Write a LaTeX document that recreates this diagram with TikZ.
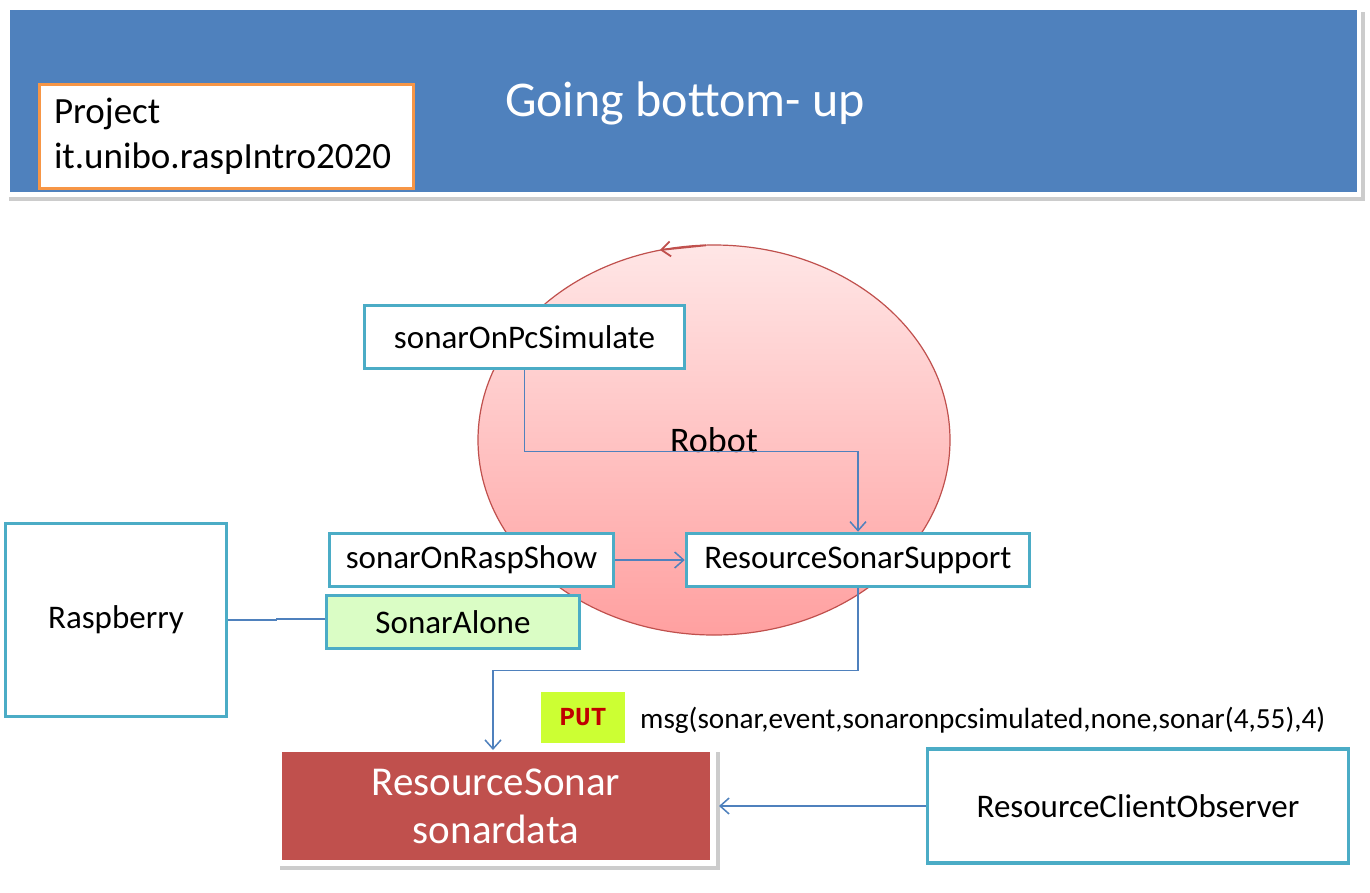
\documentclass[tikz,border=0pt]{standalone}
\usepackage{fontspec}
\setmainfont{Carlito}
\newfontfamily\monob{Liberation Mono}
\usetikzlibrary{arrows.meta,shapes.geometric}
\definecolor{hdrblue}{HTML}{4F81BD}
\definecolor{boxteal}{HTML}{4BACC6}
\definecolor{linkblue}{HTML}{4F81BD}
\definecolor{projorange}{HTML}{F79646}
\definecolor{robred}{HTML}{C0504D}
\definecolor{pinktop}{HTML}{FFE6E6}
\definecolor{pinkbot}{HTML}{FFA0A0}
\definecolor{alonegreen}{HTML}{DAFDC5}
\definecolor{resred}{HTML}{C0504D}
\definecolor{putgreen}{HTML}{CCFF33}
\definecolor{putred}{HTML}{C00000}
\begin{document}
\begin{tikzpicture}[x=1pt,y=-1pt,
  box/.style={draw=boxteal, line width=3.5pt, fill=white, inner sep=0pt,
    font=\fontsize{33}{38}\selectfont},
  conn/.style={draw=linkblue, line width=1.5pt},
  arr/.style={conn, -{Straight Barb[length=9pt,width=16pt,line width=1.5pt]}}]
\useasboundingbox (0,0) rectangle (1370,892);
\fill[white] (0,0) rectangle (1370,892);

% header
\fill[black!20] (9,12) rectangle (1365,201);
\fill[white] (6,7) rectangle (1361,197);
\fill[hdrblue] (10,10) rectangle (1357,192);
\node[font=\fontsize{50}{54}\selectfont, text=white] (title) at (685,103) {Going bottom- up};
\node[draw=projorange, line width=3pt, fill=white, minimum width=374pt, minimum height=104pt,
  text width=345pt, inner xsep=14.5pt, inner ysep=0pt, align=left,
  font=\fontsize{37}{45}\selectfont] (proj) at (226.5,136.5) {\raisebox{-4pt}{Project}\\\raisebox{-4pt}{it.unibo.raspIntro2020}};

% robot ellipse
\node[ellipse, draw=robred, line width=1.2pt, minimum width=472pt, minimum height=390pt,
  top color=pinktop, bottom color=pinkbot, inner sep=0pt,
  font=\fontsize{36}{40}\selectfont] (robot) at (714,440) {Robot};
\draw[robred, line width=1.8pt, -{Straight Barb[length=9pt,width=15pt,line width=1.8pt]}]
  (706,245.3) -- (660,250);

% boxes
\node[box, minimum width=320pt, minimum height=63pt] (pcsim) at (524.5,337) {sonarOnPcSimulate};
\node[box, minimum width=284pt, minimum height=53pt] (raspshow) at (471.5,560) {sonarOnRaspShow};
\node[box, minimum width=343pt, minimum height=53pt] (support) at (858,560) {ResourceSonarSupport};
\node[box, fill=alonegreen, minimum width=253pt, minimum height=53pt] (alone) at (453,622) {SonarAlone};
\node[box, minimum width=221pt, minimum height=193pt] (rasp) at (116,620) {Raspberry};
\node[box, minimum width=421pt, minimum height=114pt] (client) at (1138,806) {ResourceClientObserver};

% resource sonar
\fill[black!20] (280,752) rectangle (720,870);
\node[fill=resred, draw=white, line width=6pt, minimum width=434pt, minimum height=114pt,
  inner sep=0pt, align=center, text=white, font=\fontsize{41}{48}\selectfont]
  (res) at (496,806) {ResourceSonar\\sonardata};

% PUT label and message
\node[fill=putgreen, minimum width=84pt, minimum height=51pt, inner sep=0pt,
  text=putred, font=\fontsize{26}{30}\selectfont\monob\bfseries] (put) at (583,717.5) {PUT};
\node[anchor=west, inner sep=0pt, font=\fontsize{29.2}{33}\selectfont] (msg) at (640,720)
  {msg(sonar,event,sonaronpcsimulated,none,sonar(4,55),4)};

% connectors
\draw[arr] (pcsim.south) -- ++(0,81) -| (support.north);
\draw[arr] (raspshow.east) -- (support.west);
\draw[arr] (support.south) -- ++(0,82) -| ([xshift=-3pt,yshift=-4pt]res.north);
\draw[conn] (rasp.east) -- ++(48,0) |- ([yshift=3pt]alone.west);
\draw[arr] (client.west) -- ([xshift=3pt]res.east);
\end{tikzpicture}
\end{document}
